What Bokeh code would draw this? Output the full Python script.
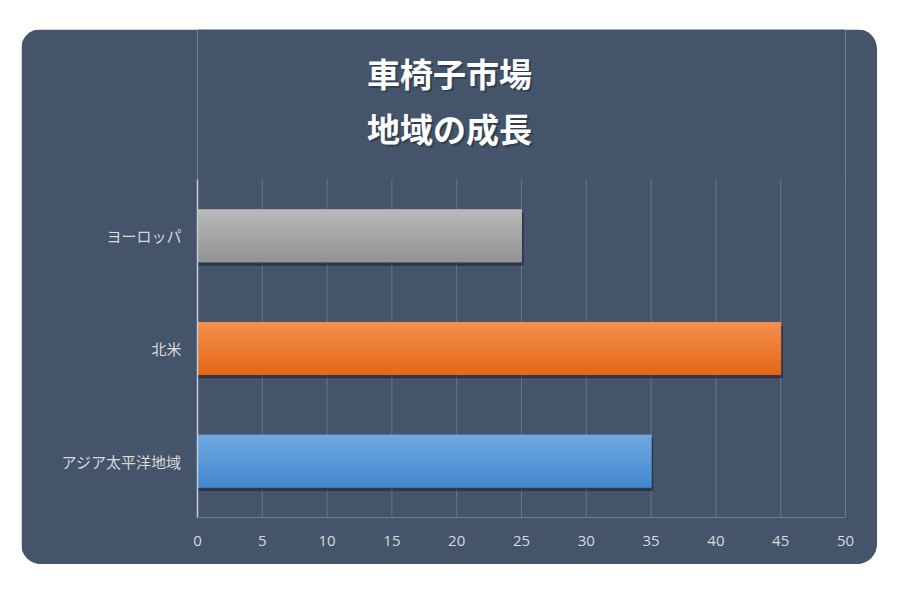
from bokeh.plotting import figure
from bokeh.models import Label, FixedTicker
from bokeh.embed import file_html
from bokeh.resources import INLINE

# data
regions = ["アジア太平洋地域", "北米", "ヨーロッパ"]
growth = [35, 45, 25]
top_colors = ["#6ea9e0", "#f48f4e", "#b8b8b8"]
bottom_colors = ["#4689d1", "#e56a18", "#959595"]
x_ticks = [0, 5, 10, 15, 20, 25, 30, 35, 40, 45, 50]
title_lines = ["車椅子市場", "地域の成長"]

panel = "#44546a"
label_color = "#d9d9d9"
bar_h = 0.46
n_strips = 16

# the plot frame reaches up to the panel top so the title can live inside it;
# grid and axis are bounded to the bar region
y_bottom, y_top_bars = -0.5, 2.5
px_per_unit = 338 / 3
y_top = y_bottom + 488 / px_per_unit


def mix(c1, c2, t):
    a = [int(c1[i:i + 2], 16) for i in (1, 3, 5)]
    b = [int(c2[i:i + 2], 16) for i in (1, 3, 5)]
    return "#%02x%02x%02x" % tuple(round(a[j] + (b[j] - a[j]) * t) for j in range(3))


p = figure(
    width=856, height=535,
    x_range=(0, 50), y_range=(y_bottom, y_top),
    output_backend="svg", toolbar_location=None,
    min_border_left=176, min_border_right=32,
    min_border_top=0, min_border_bottom=47,
)
p.styles = {"border-radius": "20px", "overflow": "hidden",
            "margin-left": "21px", "margin-top": "29px"}
p.background_fill_color = panel
p.border_fill_color = panel
p.outline_line_color = None

# two-line title with a soft shadow
for line, dy in zip(title_lines, [43, 98]):
    ty = y_top - dy / px_per_unit
    p.add_layout(Label(x=19.44, y=ty, text=line, x_offset=2, y_offset=-2,
                       text_align="center", text_baseline="middle",
                       text_font="Noto Sans CJK JP", text_font_size="33px",
                       text_font_style="bold", text_color="#161c25", text_alpha=0.4))
    p.add_layout(Label(x=19.44, y=ty, text=line,
                       text_align="center", text_baseline="middle",
                       text_font="Noto Sans CJK JP", text_font_size="33px",
                       text_font_style="bold", text_color="white"))

# vertical grid lines, only over the bar region
p.xgrid.grid_line_color = None
p.ygrid.grid_line_color = None
p.segment(x0=x_ticks, y0=y_bottom, x1=x_ticks, y1=y_top_bars,
          line_color="#66758b", line_width=1)

# bar shadows
ys = list(range(len(regions)))
p.hbar(y=[y - 0.03 for y in ys], height=bar_h, left=0,
       right=[v + 0.12 for v in growth], color="#1c2430", alpha=0.55)

# gradient bars as thin strips
for i, v in enumerate(growth):
    for k in range(n_strips):
        t = k / (n_strips - 1)
        yc = i + bar_h / 2 - (k + 0.5) * bar_h / n_strips
        p.hbar(y=[yc], height=bar_h / n_strips * 1.08, left=0, right=[v],
               color=mix(top_colors[i], bottom_colors[i], t))

# axes
p.xaxis.ticker = FixedTicker(ticks=x_ticks)
p.xaxis.axis_line_color = None
p.xaxis.major_tick_line_color = None
p.xaxis.minor_tick_line_color = None
p.xaxis.major_label_text_color = label_color
p.xaxis.major_label_text_font = "Open Sans"
p.xaxis.major_label_text_font_size = "15px"
p.xaxis.major_label_standoff = 12

p.yaxis.ticker = FixedTicker(ticks=ys)
p.yaxis.bounds = (y_bottom, y_top_bars)
p.yaxis.major_label_overrides = {i: r for i, r in enumerate(regions)}
p.yaxis.axis_line_color = "#c5ccd6"
p.yaxis.axis_line_width = 1.5
p.yaxis.major_tick_line_color = None
p.yaxis.minor_tick_line_color = None
p.yaxis.major_label_text_color = label_color
p.yaxis.major_label_text_font = "Noto Sans CJK JP"
p.yaxis.major_label_text_font_size = "15px"
p.yaxis.major_label_standoff = 10

open("out.html", "w").write(file_html(p, INLINE))
